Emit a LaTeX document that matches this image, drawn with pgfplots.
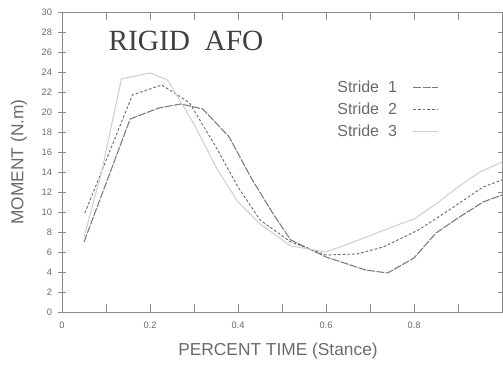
\documentclass[border=0pt]{standalone}
\usepackage{pgfplots}
\pgfplotsset{compat=1.18}
\usepackage{fontspec}
\setmainfont{Liberation Sans}
\newfontfamily\seriffont{Liberation Serif}
\definecolor{axgray}{HTML}{8A8A8A}
\definecolor{txtgray}{HTML}{6A6A6A}
\definecolor{sone}{HTML}{7A7A7A}
\definecolor{stwo}{HTML}{6A6A6A}
\definecolor{sthree}{HTML}{D0D0D0}
\begin{document}
\begin{tikzpicture}
\begin{axis}[
  at={(0,0)}, anchor=south west,
  scale only axis, width=330pt, height=225pt,
  xmin=0, xmax=1, ymin=0, ymax=30,
  axis line style={axgray, line width=0.6pt},
  xtick={0,0.2,0.4,0.6,0.8},
  xticklabels={0,0.2,0.4,0.6,0.8},
  minor xtick={0.1,0.3,0.5,0.7,0.9},
  ytick={0,2,...,30},
  x tick style={axgray, line width=0.5pt},
  y tick style={axgray, line width=0.5pt},
  xtick align=inside,
  ytick align=center,
  major tick length=6pt, minor tick length=6pt,
  tick label style={font=\fontsize{7}{8}\selectfont, text=txtgray},
  /pgf/number format/assume math mode=true,
  xticklabel style={yshift=-4pt},
  yticklabel style={xshift=-1pt},
  xlabel={PERCENT TIME (Stance)},
  ylabel={MOMENT (N.m)},
  label style={font=\fontsize{13}{15}\selectfont, text=txtgray},
  xlabel style={yshift=-4pt, xshift=-3pt},
  ylabel style={yshift=4pt},
  legend plot pos=right,
  legend style={at={(rel axis cs:0.61,0.79)}, anchor=north west, draw=none, fill=none,
    font=\fontsize{12}{14}\selectfont, text=txtgray, row sep=2.5pt, column sep=10pt},
  legend cell align=left,
  legend image post style={xscale=1.1},
  clip=false,
]
\addplot[sone, line width=0.8pt, dash pattern=on 6pt off 1pt] coordinates {
(0.05,7.0) (0.155,19.3) (0.22,20.4) (0.27,20.8) (0.32,20.3) (0.38,17.5) (0.43,13.4)
(0.48,9.8) (0.52,7.2) (0.60,5.5) (0.69,4.2) (0.74,3.9) (0.80,5.4) (0.85,7.9)
(0.90,9.4) (0.957,11.0) (1.0,11.7)
};
\addlegendentry{Stride\ \ 1}
\addplot[stwo, line width=0.7pt, dash pattern=on 2pt off 1.5pt] coordinates {
(0.052,9.9) (0.16,21.7) (0.227,22.7) (0.28,21.2) (0.29,20.9) (0.35,16.5) (0.40,12.5)
(0.45,9.2) (0.52,7.0) (0.60,5.7) (0.67,5.8) (0.73,6.5) (0.81,8.2) (0.88,10.2)
(0.957,12.5) (1.0,13.2)
};
\addlegendentry{Stride\ \ 2}
\addplot[sthree, line width=0.8pt] coordinates {
(0.05,7.5) (0.09,14.0) (0.135,23.3) (0.2,23.9) (0.24,23.2) (0.30,18.8) (0.35,14.5)
(0.40,11.0) (0.45,8.8) (0.52,6.6) (0.60,6.0) (0.68,7.3) (0.75,8.5) (0.80,9.3)
(0.85,10.8) (0.90,12.5) (0.95,14.0) (1.0,15.0)
};
\addlegendentry{Stride\ \ 3}
\node[anchor=west, font=\seriffont\fontsize{22}{25}\selectfont, text=black!75] at (rel axis cs:0.095,0.905) {RIGID\ \ AFO};
\end{axis}
\pgfresetboundingbox
\path (-46.5pt,-40.5pt) rectangle (330.75pt,234pt);
\end{tikzpicture}
\end{document}
